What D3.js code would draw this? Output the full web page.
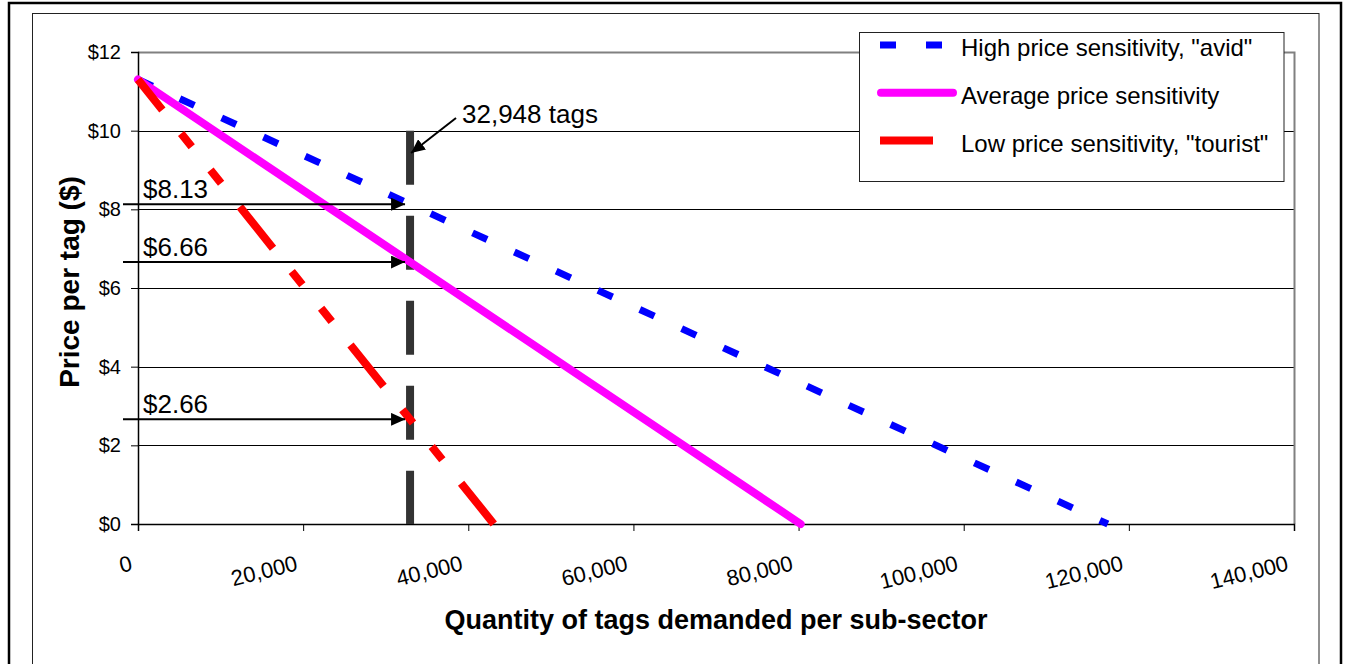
<!DOCTYPE html>
<html>
<head>
<meta charset="utf-8">
<script src="https://cdn.jsdelivr.net/npm/d3@7"></script>
<style>
  html, body { margin: 0; padding: 0; background: #fff; }
  svg { display: block; font-family: "Liberation Sans", Arial, sans-serif; }
</style>
</head>
<body>
<svg id="chart" width="1351" height="664"></svg>
<script>
// Demand curves: price per tag against quantity of tags demanded
const seriesNames = ['High price sensitivity, "avid"', 'Average price sensitivity', 'Low price sensitivity, "tourist"'];
const avidQty = [0, 32948, 117450];
const avidPrice = [11.3, 8.13, 0];
const averageQty = [0, 32948, 80250];
const averagePrice = [11.3, 6.66, 0];
const touristQty = [0, 32948, 43090];
const touristPrice = [11.3, 2.66, 0];

const markQty = 32948;
const markPrices = [8.13, 6.66, 2.66];
const markPriceLabels = ["$8.13", "$6.66", "$2.66"];
const markQtyLabel = "32,948 tags";

// Axis ticks
const xTicks = [0, 20000, 40000, 60000, 80000, 100000, 120000, 140000];
const yTicks = [0, 2, 4, 6, 8, 10, 12];

const svg = d3.select("#chart");
const fontFamily = "Liberation Sans, Arial, sans-serif";

// Outer frame and chart-area frame
svg.append("rect").attr("x", 9).attr("y", 3).attr("width", 1332).attr("height", 700)
  .attr("fill", "none").attr("stroke", "#000").attr("stroke-width", 2.5);
svg.append("rect").attr("x", 32.5).attr("y", 13.5).attr("width", 1286.5).attr("height", 700)
  .attr("fill", "none").attr("stroke", "#222").attr("stroke-width", 1);

const x = d3.scaleLinear().domain([0, 140000]).range([138, 1294]);
const y = d3.scaleLinear().domain([0, 12]).range([524, 52]);

// Gridlines
svg.append("g").selectAll("line").data(yTicks.filter(v => v > 0 && v < 12)).join("line")
  .attr("x1", x(0)).attr("x2", x(140000))
  .attr("y1", d => Math.round(y(d)) + 0.5).attr("y2", d => Math.round(y(d)) + 0.5)
  .attr("stroke", "#000").attr("stroke-width", 1);

// Plot area top/right border
svg.append("path")
  .attr("d", `M${x(0)},${y(12) + 0.5}H${x(140000) + 0.5}V${y(0)}`)
  .attr("fill", "none").attr("stroke", "#808080").attr("stroke-width", 2);

// Y axis
const yAxis = d3.axisLeft(y).tickValues(yTicks).tickSize(7).tickPadding(10)
  .tickFormat(d => "$" + d);
const gy = svg.append("g").attr("transform", `translate(${x(0)},0)`).call(yAxis);
gy.select(".domain").attr("stroke", "#000").attr("stroke-width", 1.5);
gy.selectAll(".tick line").attr("stroke", "#000");
gy.selectAll(".tick text").attr("font-size", 20).attr("fill", "#000")
  .attr("font-family", fontFamily);

// X axis
const xAxis = d3.axisBottom(x).tickValues(xTicks).tickSize(7).tickFormat(d3.format(","));
const gx = svg.append("g").attr("transform", `translate(0,${y(0)})`).call(xAxis);
gx.select(".domain").attr("stroke", "#000").attr("stroke-width", 1.5);
gx.selectAll(".tick line").attr("stroke", "#000");
gx.selectAll(".tick text")
  .attr("font-size", 22).attr("fill", "#000")
  .attr("font-family", fontFamily)
  .attr("text-anchor", "end")
  .attr("y", 0).attr("dy", 0)
  .attr("transform", "translate(-5,46) rotate(-14)");

// Axis titles
svg.append("text")
  .attr("x", 716).attr("y", 629)
  .attr("text-anchor", "middle").attr("font-size", 27).attr("font-weight", "bold")
  .text("Quantity of tags demanded per sub-sector");
svg.append("text")
  .attr("transform", `translate(79,${(y(0) + y(12)) / 2 - 6}) rotate(-90)`)
  .attr("text-anchor", "middle").attr("font-size", 28).attr("font-weight", "bold")
  .text("Price per tag ($)");

// Curves
const series = [
  { qty: avidQty, price: avidPrice, color: "#0000ff", width: 7, dash: "16,30", offset: 0, cap: "butt" },
  { qty: averageQty, price: averagePrice, color: "#ff00ff", width: 8, dash: null, offset: 0, cap: "round" },
  { qty: touristQty, price: touristPrice, color: "#ff0000", width: 8, dash: "53,30,17,30,17,30", offset: 14, cap: "butt" }
];
const line = d3.line().x(d => x(d[0])).y(d => y(d[1]));

// Vertical marker at the chosen quantity
svg.append("line")
  .attr("x1", x(markQty)).attr("x2", x(markQty))
  .attr("y1", y(10)).attr("y2", y(0))
  .attr("stroke", "#333").attr("stroke-width", 8).attr("stroke-dasharray", "54,31");

series.forEach(s => {
  svg.append("path")
    .datum(s.qty.map((q, i) => [q, s.price[i]]))
    .attr("d", line)
    .attr("fill", "none").attr("stroke", s.color).attr("stroke-width", s.width)
    .attr("stroke-dasharray", s.dash).attr("stroke-dashoffset", s.offset)
    .attr("stroke-linecap", s.cap);
});

// Arrowhead marker
const defs = svg.append("defs");
defs.append("marker").attr("id", "arrow")
  .attr("viewBox", "0 0 14 13").attr("refX", 14).attr("refY", 6.5)
  .attr("markerWidth", 14).attr("markerHeight", 13).attr("markerUnits", "userSpaceOnUse")
  .attr("orient", "auto")
  .append("path").attr("d", "M0,0L14,6.5L0,13Z").attr("fill", "#000");

// Price call-outs
markPrices.forEach((p, i) => {
  const yy = y(p);
  svg.append("line")
    .attr("x1", 123).attr("x2", x(markQty) - 5)
    .attr("y1", yy).attr("y2", yy)
    .attr("stroke", "#000").attr("stroke-width", 2)
    .attr("marker-end", "url(#arrow)");
  svg.append("text")
    .attr("x", 143).attr("y", yy - 6)
    .attr("font-size", 26).attr("fill", "#000")
    .text(markPriceLabels[i]);
});

// Quantity call-out
svg.append("line")
  .attr("x1", 456).attr("y1", 118).attr("x2", x(markQty) + 1).attr("y2", 153)
  .attr("stroke", "#000").attr("stroke-width", 2)
  .attr("marker-end", "url(#arrow)");
svg.append("text")
  .attr("x", 462).attr("y", 123)
  .attr("font-size", 26).attr("fill", "#000")
  .text(markQtyLabel);

// Legend
const lg = svg.append("g");
lg.append("rect").attr("x", 859.5).attr("y", 32.5).attr("width", 424.5).attr("height", 149)
  .attr("fill", "#fff").attr("stroke", "#222").attr("stroke-width", 1);
series.forEach((s, i) => {
  const ly = 45 + i * 47.8;
  lg.append("line")
    .attr("x1", s.cap === "round" ? 881 : 880).attr("x2", s.cap === "round" ? 953 : 957)
    .attr("y1", ly).attr("y2", ly)
    .attr("stroke", s.color).attr("stroke-width", s.width)
    .attr("stroke-linecap", s.cap)
    .attr("stroke-dasharray", s.dash);
  lg.append("text")
    .attr("x", 961).attr("y", ly + 11)
    .attr("font-size", 24).attr("fill", "#000")
    .text(seriesNames[i]);
});
</script>
</body>
</html>
